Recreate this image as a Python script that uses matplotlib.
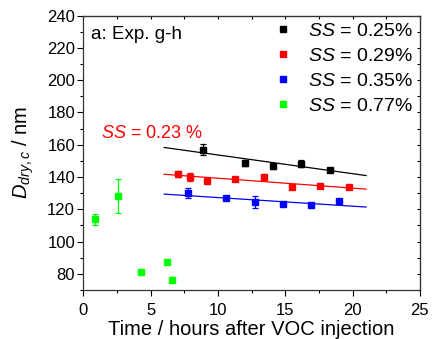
import matplotlib
matplotlib.use("Agg")
import matplotlib.pyplot as plt
from matplotlib.ticker import MultipleLocator, FuncFormatter
from matplotlib.lines import Line2D

plt.rcParams['font.family'] = ['Liberation Sans', 'DejaVu Sans']
plt.rcParams['mathtext.fontset'] = 'custom'
plt.rcParams['mathtext.it'] = 'Liberation Sans:italic'
plt.rcParams['mathtext.rm'] = 'Liberation Sans'

# Data
x_025 = [8.9, 12.0, 14.1, 16.2, 18.3]
y_025 = [157.0, 148.7, 146.8, 148.3, 144.2]
e_025 = [3.5, 2.0, 2.0, 2.0, 1.0]
fit_025_x = [6.0, 21.0]
fit_025_y = [158.3, 140.9]

x_029 = [7.0, 7.9, 9.2, 11.3, 13.4, 15.5, 17.6, 19.7]
y_029 = [141.9, 140.0, 137.5, 138.6, 140.0, 134.0, 134.2, 134.0]
e_029 = [2.0, 2.5, 1.0, 1.0, 1.0, 1.0, 1.0, 1.0]
fit_029_x = [6.0, 21.0]
fit_029_y = [141.7, 132.5]

x_035 = [7.8, 10.6, 12.75, 14.85, 16.9, 19.0]
y_035 = [129.9, 127.0, 124.5, 123.3, 122.9, 125.1]
e_035 = [3.0, 1.5, 3.5, 1.0, 1.0, 1.0]
fit_035_x = [6.0, 21.0]
fit_035_y = [129.4, 121.4]

x_077 = [0.85, 2.55, 4.25, 6.2, 6.6]
y_077 = [113.7, 128.2, 81.4, 87.2, 76.3]
e_077 = [3.5, 10.5, 0.0, 0.0, 1.5]

labels = [r'$SS$ = 0.25%', r'$SS$ = 0.29%', r'$SS$ = 0.35%', r'$SS$ = 0.77%']
colors = ['black', '#ff0000', '#0000ff', '#00ff00']

fig = plt.figure(figsize=(4.32, 3.39), dpi=100)
ax = fig.add_axes([0.193, 0.1445, 0.779, 0.8095])

series = [
    (x_025, y_025, e_025, fit_025_x, fit_025_y),
    (x_029, y_029, e_029, fit_029_x, fit_029_y),
    (x_035, y_035, e_035, fit_035_x, fit_035_y),
]
for (xs, ys, es, fx, fy), c in zip(series, colors[:3]):
    ax.plot(fx, fy, color=c, lw=0.9, zorder=2)
    ax.errorbar(xs, ys, yerr=es, fmt='s', color=c, ms=4.2, elinewidth=0.9,
                capsize=2.2, capthick=0.9, zorder=3)
ax.errorbar(x_077, y_077, yerr=e_077, fmt='s', color=colors[3], ms=4.2,
            elinewidth=0.9, capsize=2.2, capthick=0.9, zorder=3)

ax.set_xlim(0, 25)
ax.set_ylim(70, 240)
ax.xaxis.set_major_locator(MultipleLocator(5))
ax.xaxis.set_minor_locator(MultipleLocator(2.5))
ax.yaxis.set_major_locator(MultipleLocator(20))
ax.yaxis.set_minor_locator(MultipleLocator(10))
ax.yaxis.set_major_formatter(FuncFormatter(lambda v, p: '' if v < 80 else f'{int(v)}'))

ax.tick_params(axis='both', which='major', direction='out', length=4, width=0.8, labelsize=12, pad=2)
ax.tick_params(axis='x', which='major', pad=5)
ax.tick_params(axis='both', which='minor', direction='out', length=2, width=0.8)

secx = ax.secondary_xaxis('top')
secx.xaxis.set_major_locator(MultipleLocator(2.5))
secx.tick_params(direction='in', length=2, labeltop=False, width=0.8)
secy = ax.secondary_yaxis('right')
secy.yaxis.set_major_locator(MultipleLocator(10))
secy.tick_params(direction='in', length=2, labelright=False, width=0.8)

for s in ax.spines.values():
    s.set_linewidth(0.9)
    s.set_color('#333333')

ax.set_xlabel('Time / hours after VOC injection', fontsize=14.5, labelpad=2)
ax.set_ylabel(r'$D_{dry,c}$ / nm', fontsize=14.5, labelpad=8)

ax.text(0.024, 0.93, 'a: Exp. g-h', transform=ax.transAxes, fontsize=13.5, va='center', ha='left')
ax.text(1.3, 167, r'$SS$ = 0.23 %', color='#ff0000', fontsize=13, va='center', ha='left')

handles = [Line2D([], [], ls='none', marker='s', ms=4.2, color=c) for c in colors]
leg = ax.legend(handles, labels, loc='upper right', frameon=False, fontsize=14,
                handlelength=0.8, handletextpad=0.9, labelspacing=0.38,
                borderaxespad=0.1, borderpad=0.25)

fig.savefig('out.png', dpi=100)
